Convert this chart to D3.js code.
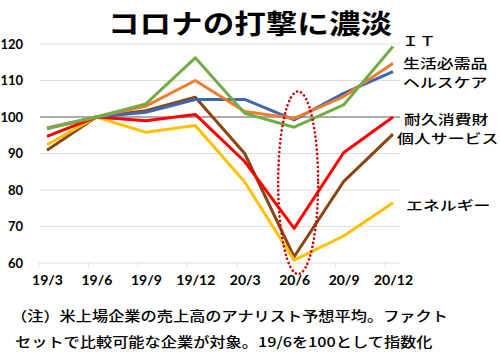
<!DOCTYPE html>
<html><head><meta charset="utf-8">
<script src="https://cdn.jsdelivr.net/npm/d3@7"></script>
<style>
html,body{margin:0;padding:0;background:#fff;}
svg{display:block;}
</style></head>
<body>
<svg id="chart" width="500" height="355"></svg>
<script>
const categories = ["19/3","19/6","19/9","19/12","20/3","20/6","20/9","20/12"];
const yTicks = [60,70,80,90,100,110,120];
const seriesNames = ["個人サービス","エネルギー","耐久消費財","ヘルスケア","生活必需品","ＩＴ"];
const personalServices = [90.9,100,101.7,105.4,90.0,61.7,82.3,95.3];
const energy          = [92.4,100,95.8,97.7,82.2,60.8,67.4,76.5];
const durables        = [94.7,100,99.0,100.7,87.8,69.5,90.2,100.0];
const healthcare      = [96.9,100,101.3,104.8,104.8,99.2,106.5,112.4];
const staples         = [97.0,100,103.0,110.0,101.5,99.6,105.6,114.7];
const it              = [96.8,100,103.6,116.2,101.0,97.2,103.3,119.3];
const seriesValues = [personalServices, energy, durables, healthcare, staples, it];
const title = "コロナの打撃に濃淡";
const noteLines = ["（注）米上場企業の売上高のアナリスト予想平均。ファクト","セットで比較可能な企業が対象。19/6を100として指数化"];

// styling / layout (kept apart from data)
const seriesColors = ["#8B4513","#FFC000","#FF0000","#3F67B1","#ED7D31","#70AD47"];
const labelLayout = [[397,138.5],[406,205],[404,119],[403,82],[403,63],[402,41]];

const svg = d3.select("#chart");
const x = d3.scalePoint().domain(categories).range([47,393]);
const y = d3.scaleLinear().domain([60,120]).range([263,44]);
const cjk = "'Noto Sans CJK JP','Noto Sans CJK SC',sans-serif";
const lat = "Lato,'Open Sans',sans-serif";
const SX = 1.2;

// gridlines
svg.append("g").selectAll("line").data(yTicks).join("line")
  .attr("x1",40).attr("x2",400)
  .attr("y1",d=>y(d)).attr("y2",d=>y(d))
  .attr("stroke",d=>d===100?"#595959":"#DDDDDD")
  .attr("stroke-width",d=>d===100?1.2:1);

// x tick marks (offset left of points)
svg.append("g").selectAll("line").data(categories).join("line")
  .attr("x1",d=>x(d)-8).attr("x2",d=>x(d)-8)
  .attr("y1",y(60)-1).attr("y2",y(60)+4)
  .attr("stroke","#DDDDDD");

// y axis labels
const yAxis = d3.axisLeft(y).tickValues(yTicks).tickSize(0).tickPadding(0);
const gy = svg.append("g").attr("transform","translate(23,0)").call(yAxis);
gy.select(".domain").remove();
gy.selectAll("text").attr("font-family",lat).attr("font-weight","bold").attr("font-size",13).attr("fill","#000");

// x axis labels
const xAxis = d3.axisBottom(x).tickSize(0).tickPadding(0);
const gx = svg.append("g").attr("transform","translate(0,275)").call(xAxis);
gx.select(".domain").remove();
gx.selectAll("text").attr("font-family",lat).attr("font-weight","bold").attr("font-size",14).attr("fill","#000");

// lines
const line = d3.line().x((d,i)=>x(categories[i])).y(d=>y(d));
svg.append("g").selectAll("path").data(seriesValues).join("path")
  .attr("d",d=>line(d))
  .attr("fill","none")
  .attr("stroke",(d,i)=>seriesColors[i])
  .attr("stroke-width",3)
  .attr("stroke-linejoin","round");

// dotted ellipse
svg.append("ellipse")
  .attr("cx",x("20/6")+4).attr("cy",(y(107)+y(57))/2)
  .attr("rx",20).attr("ry",(y(57)-y(107))/2)
  .attr("fill","none").attr("stroke","#D00000").attr("stroke-width",2.6)
  .attr("stroke-dasharray","0.1,4.2").attr("stroke-linecap","round");

// series labels
svg.append("g").selectAll("text").data(seriesNames).join("text")
  .attr("transform",(d,i)=>`translate(${labelLayout[i][0]},${labelLayout[i][1]}) scale(1.3,1)`)
  .attr("dy","0.36em")
  .attr("font-family",cjk).attr("font-weight",500).attr("font-size",13).attr("fill","#000")
  .text(d=>d);

// title
svg.append("text").attr("transform",`translate(250,34) scale(1.17,1)`).attr("text-anchor","middle")
  .attr("font-family",cjk).attr("font-weight","bold").attr("font-size",27).attr("fill","#000")
  .text(title);

// note
svg.append("g").selectAll("text").data(noteLines).join("text")
  .attr("transform",(d,i)=>`translate(${i===0?11:15},${i===0?321:347}) scale(${SX},1)`)
  .attr("font-family",cjk).attr("font-weight",500).attr("font-size",13.5).attr("fill","#000")
  .text(d=>d);
</script>
</body></html>
